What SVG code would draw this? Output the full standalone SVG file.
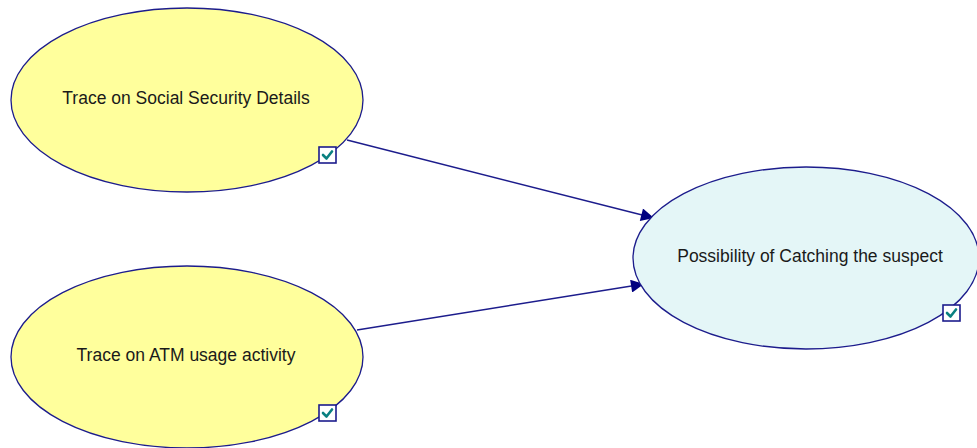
<svg xmlns="http://www.w3.org/2000/svg" width="977" height="448" viewBox="0 0 977 448">
<style>
.n{stroke:#1c1c8c;stroke-width:1.3}
.y{fill:#ffff9c}
.b{fill:#e4f6f7}
.t{font-family:"Liberation Sans",Arial,sans-serif;font-size:17.5px;fill:#1a1a1a;text-anchor:middle}
.cb{fill:#ffffff;stroke:#1c1c8c;stroke-width:1.6}
.ck{fill:none;stroke:#0a8080;stroke-width:2.6;stroke-linecap:round;stroke-linejoin:round}
.e{stroke:#1c1c8c;stroke-width:1.4;fill:none}
</style>
<defs>
<marker id="ah" viewBox="0 0 10 10" refX="10" refY="5" markerWidth="20" markerHeight="13" markerUnits="userSpaceOnUse" orient="auto">
<path d="M0,0 L10,5 L0,10 z" fill="#000080"/>
</marker>
<g id="check">
<rect class="cb" x="0" y="0" width="17" height="16"/>
<path class="ck" d="M4,8 L7.5,11.5 L13,4.5"/>
</g>
</defs>
<rect width="977" height="448" fill="#ffffff"/>
<g id="connectors">
<line class="e" x1="347" y1="140" x2="654" y2="218" marker-end="url(#ah)"/>
<line class="e" x1="357" y1="330" x2="644" y2="284" marker-end="url(#ah)"/>
</g>
<g id="node-social">
<ellipse class="n y" cx="187" cy="100" rx="176" ry="92"/>
<text class="t" x="186" y="104">Trace on Social Security Details</text>
<use href="#check" x="319" y="147"/>
</g>
<g id="node-atm">
<ellipse class="n y" cx="187" cy="357" rx="176" ry="91"/>
<text class="t" x="186" y="361">Trace on ATM usage activity</text>
<use href="#check" x="319" y="405"/>
</g>
<g id="node-possibility">
<ellipse class="n b" cx="806" cy="258" rx="173" ry="91"/>
<text class="t" x="810" y="262">Possibility of Catching the suspect</text>
<use href="#check" x="943" y="305"/>
</g>
</svg>
